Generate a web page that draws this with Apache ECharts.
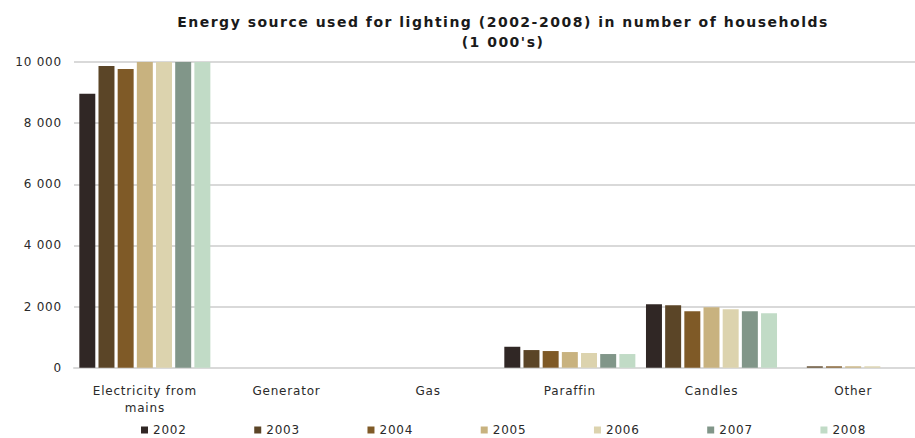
<!DOCTYPE html>
<html><head><meta charset="utf-8">
<script src="https://cdn.jsdelivr.net/npm/echarts@6/dist/echarts.min.js"></script>
<style>
html,body{margin:0;padding:0;background:#fff;overflow:hidden}
#c{width:915px;height:438px}
#c svg text{letter-spacing:0.8px}
#c svg text[fill="#1a1a1a"]{letter-spacing:1.5px}
</style>
</head><body><div id="c"></div>
<script>
const categories = ['Electricity from\nmains', 'Generator', 'Gas', 'Paraffin', 'Candles', 'Other'];
const years = ['2002', '2003', '2004', '2005', '2006', '2007', '2008'];
const v2002 = [8960, 0, 0, 685, 2077, 0];
const v2003 = [9870, 0, 0, 577, 2044, 45];
const v2004 = [9770, 0, 0, 545, 1849, 45];
const v2005 = [10200, 0, 0, 512, 1980, 45];
const v2006 = [10400, 0, 0, 480, 1914, 45];
const v2007 = [10600, 0, 0, 447, 1849, 0];
const v2008 = [10800, 0, 0, 447, 1784, 0];
const seriesValues = [v2002, v2003, v2004, v2005, v2006, v2007, v2008];
const colors = ['#302725', '#5b4527', '#7f5a27', '#c8b27f', '#dcd3ae', '#819689', '#c1dbc6'];
const yTicks = [0, 2000, 4000, 6000, 8000, 10000];

const font = 'DejaVu Sans';
const chart = echarts.init(document.getElementById('c'), null, { renderer: 'svg' });
chart.setOption({
  animation: false,
  color: colors,
  title: {
    text: "Energy source used for lighting (2002-2008) in number of households\n(1 000's)",
    left: 503, top: 12, textAlign: 'center', padding: 0,
    textStyle: { fontFamily: font, fontSize: 14, fontWeight: 'bold', color: '#1a1a1a', lineHeight: 20 }
  },
  legend: {
    data: years, left: 141, top: 424, padding: 0, icon: 'rect', itemWidth: 7, itemHeight: 7, itemGap: 70.7,
    textStyle: { fontFamily: font, fontSize: 12, color: '#2a2a2a' }
  },
  grid: { left: 74, width: 850, top: 62, bottom: 70.3, containLabel: false, outerBoundsMode: 'none' },
  xAxis: {
    type: 'category', data: categories,
    axisLine: { lineStyle: { color: '#d9d9d9', width: 2 } },
    axisTick: { show: false },
    axisLabel: { fontFamily: font, fontSize: 12, color: '#2a2a2a', margin: 15, lineHeight: 17 }
  },
  yAxis: {
    type: 'value', min: yTicks[0], max: yTicks[yTicks.length - 1], interval: 2000,
    axisLine: { show: false }, axisTick: { show: false },
    splitLine: { lineStyle: { color: '#d9d9d9', width: 2 } },
    axisLabel: {
      fontFamily: font, fontSize: 12, color: '#2a2a2a', margin: 12,
      formatter: v => String(v).replace(/\B(?=(\d{3})+(?!\d))/g, ' ')
    }
  },
  series: years.map((y, i) => ({
    name: y, type: 'bar', data: seriesValues[i], clip: true,
    barGap: '20%', barCategoryGap: '7.5%'
  }))
});
</script></body></html>
